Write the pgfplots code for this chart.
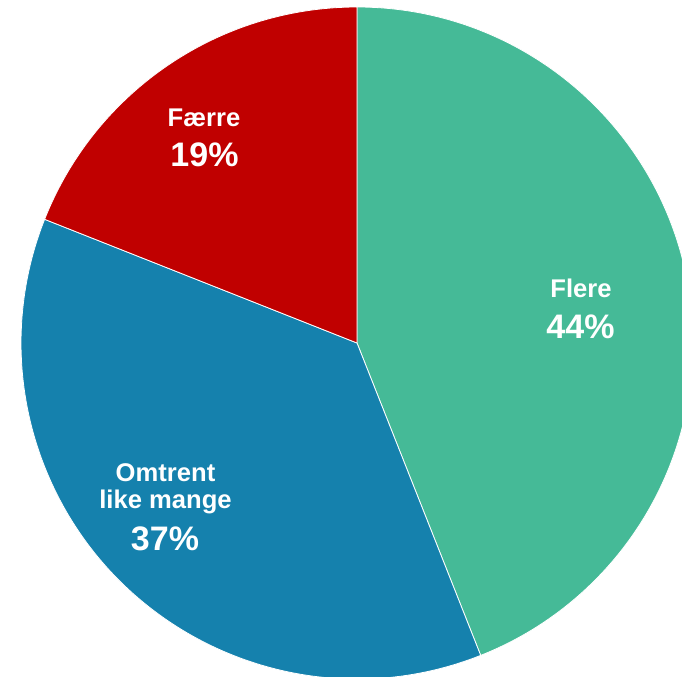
\documentclass[border=0pt]{standalone}
\usepackage{pgfplots}
\usepackage{pgfplotstable}
\pgfplotsset{compat=1.18}
\usepackage{fontspec}
\setmainfont{Liberation Sans}
\definecolor{flere}{HTML}{45BA97}
\definecolor{omtrent}{HTML}{1581AD}
\definecolor{faerre}{HTML}{C00000}
\pgfplotstableread{
label value
Flere 44
Omtrent 37
Faerre 19
}\piedata
\begin{document}
\begin{tikzpicture}
\pgfplotstablegetelem{0}{value}\of\piedata \let\va\pgfplotsretval
\pgfplotstablegetelem{1}{value}\of\piedata \let\vb\pgfplotsretval
\pgfplotstablegetelem{2}{value}\of\piedata \let\vc\pgfplotsretval
\pgfmathsetmacro{\aA}{90-3.6*\va}
\pgfmathsetmacro{\aB}{\aA-3.6*\vb}
\pgfmathsetmacro{\aC}{\aB-3.6*\vc}
\useasboundingbox (0,0) rectangle (682bp,677bp);
\begin{axis}[at={(0,0)},anchor=south west, scale only axis, width=682bp, height=677bp,
  xmin=0,xmax=682,ymin=0,ymax=677, y dir=reverse, hide axis, clip=true]
\fill[flere, draw=white, line width=0.8pt] (axis cs:357,343) -- ++(90:336bp) arc[start angle=90,end angle=\aA,radius=336bp] -- cycle;
\fill[omtrent, draw=white, line width=0.8pt] (axis cs:357,343) -- ++(\aA:336bp) arc[start angle=\aA,end angle=\aB,radius=336bp] -- cycle;
\fill[faerre, draw=white, line width=0.8pt] (axis cs:357,343) -- ++(\aB:336bp) arc[start angle=\aB,end angle=\aC,radius=336bp] -- cycle;
\tikzset{lab/.style={anchor=base, text=white, inner sep=0pt, font=\bfseries\fontsize{25.6bp}{30bp}\selectfont},
         pct/.style={anchor=base, text=white, inner sep=0pt, font=\bfseries\fontsize{34bp}{40bp}\selectfont}}
\node[lab] at (axis cs:581,297.3) {Flere};
\node[pct] at (axis cs:580.5,338.3) {44\%};
\node[lab] at (axis cs:204,126.7) {Færre};
\node[pct] at (axis cs:204.5,166.7) {19\%};
\node[lab] at (axis cs:165.5,481.7) {Omtrent};
\node[lab] at (axis cs:165.5,508) {like mange};
\node[pct] at (axis cs:165,550) {37\%};
\end{axis}
\end{tikzpicture}
\end{document}
